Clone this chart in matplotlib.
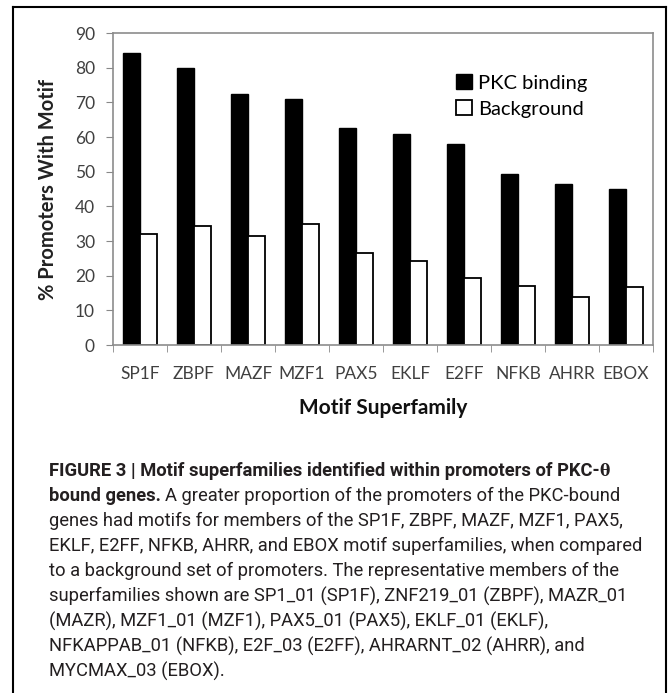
import numpy as np
import matplotlib
matplotlib.use("Agg")
import matplotlib.pyplot as plt
from matplotlib.lines import Line2D

# data
families = ["SP1F", "ZBPF", "MAZF", "MZF1", "PAX5", "EKLF", "E2FF", "NFKB", "AHRR", "EBOX"]
pkc_binding = [84.1, 79.8, 72.5, 70.9, 62.5, 60.9, 58.1, 49.3, 46.3, 45.0]
background = [31.9, 34.2, 31.4, 34.8, 26.4, 24.3, 19.3, 17.1, 13.9, 16.6]
yticks = [0, 10, 20, 30, 40, 50, 60, 70, 80, 90]

caption_bold = ["FIGURE 3 | Motif superfamilies identified within promoters of PKC-",
                "bound genes."]
caption_rest = [
    "",
    "A greater proportion of the promoters of the PKC-bound",
    "genes had motifs for members of the SP1F, ZBPF, MAZF, MZF1, PAX5,",
    "EKLF, E2FF, NFKB, AHRR, and EBOX motif superfamilies, when compared",
    "to a background set of promoters. The representative members of the",
    "superfamilies shown are SP1_01 (SP1F), ZNF219_01 (ZBPF), MAZR_01",
    "(MAZR), MZF1_01 (MZF1), PAX5_01 (PAX5), EKLF_01 (EKLF),",
    "NFKAPPAB_01 (NFKB), E2F_03 (E2FF), AHRARNT_02 (AHRR), and",
    "MYCMAX_03 (EBOX).",
]

W, H = 671, 693
CHART_FONT = ["Lato", "DejaVu Sans"]
CAP_FONT = ["Roboto", "Liberation Sans", "DejaVu Sans"]
GREY = "#404040"

fig = plt.figure(figsize=(W / 100, H / 100), dpi=100)
ax = fig.add_axes([113 / W, 1 - 345 / H, 540 / W, 312 / H])

x = np.arange(len(families))
bw = 0.31
ax.bar(x - bw / 2, pkc_binding, bw, color="black", edgecolor="black", lw=1.0,
       label="PKC binding")
ax.bar(x + bw / 2, background, bw, color="white", edgecolor="black", lw=1.3,
       label="Background")

ax.set_xlim(-0.5, len(families) - 0.5)
ax.set_ylim(0, 90)
ax.set_yticks(yticks)
ax.set_yticklabels([str(v) for v in yticks], fontfamily=CHART_FONT, fontsize=12.5, color=GREY)
ax.set_xticks(x)
ax.set_xticklabels(families, fontfamily=CHART_FONT, fontsize=12.5, color=GREY)
ax.set_xticks(np.arange(-0.5, len(families)), minor=True)
ax.tick_params(axis="x", which="major", length=0, pad=15)
ax.tick_params(axis="x", which="minor", length=5, color="#888888", direction="out")
ax.tick_params(axis="y", length=5, color="#888888", direction="out", pad=8)
for s in ax.spines.values():
    s.set_color("#8c8c8c")
    s.set_linewidth(1.2)

ax.set_ylabel("% Promoters With Motif", fontfamily=CHART_FONT, fontsize=14.5,
              fontweight="bold", color="#222222", labelpad=12)
ax.set_xlabel("Motif Superfamily", fontfamily=CHART_FONT, fontsize=15,
              fontweight="bold", color="#111111", labelpad=12)

ax.legend(loc="upper left", bbox_to_anchor=((446 - 113) / 540, (345 - 64) / 312),
          frameon=False, borderpad=0, handlelength=0.8, handleheight=0.8,
          handletextpad=0.3, labelspacing=0.4,
          prop={"family": CHART_FONT, "size": 14.5})

# outer frame of the figure panel (open at the bottom)
fig.add_artist(Line2D([13 / W, 13 / W], [0, 1 - 7 / H], color="black", lw=1.5))
fig.add_artist(Line2D([13 / W, 666 / W], [1 - 7 / H, 1 - 7 / H], color="black", lw=1.5))
fig.add_artist(Line2D([666 / W, 666 / W], [0, 1 - 7 / H], color="black", lw=1.5))

# caption
CAP_SIZE = 13.2
cx = 49
y0, dy = 471, 25.1
fig.canvas.draw()
renderer = fig.canvas.get_renderer()
for i, rest in enumerate(caption_rest):
    ypx = y0 + i * dy
    xpx = cx
    if i < len(caption_bold):
        t = fig.text(xpx / W, 1 - ypx / H, caption_bold[i], fontfamily=CAP_FONT,
                     fontweight="bold", fontsize=CAP_SIZE, color="#231f20", va="center")
        xpx = t.get_window_extent(renderer).x1
        if i == 0:
            fig.text(xpx / W, 1 - ypx / H, "\u03b8", fontfamily=["DejaVu Serif"],
                     fontweight="bold", fontsize=CAP_SIZE - 2, color="#231f20", va="center")
        xpx += 4
    if rest:
        fig.text(xpx / W, 1 - ypx / H, rest, fontfamily=CAP_FONT, fontsize=CAP_SIZE,
                 color="#231f20", va="center")

fig.savefig("out.png", dpi=100)
